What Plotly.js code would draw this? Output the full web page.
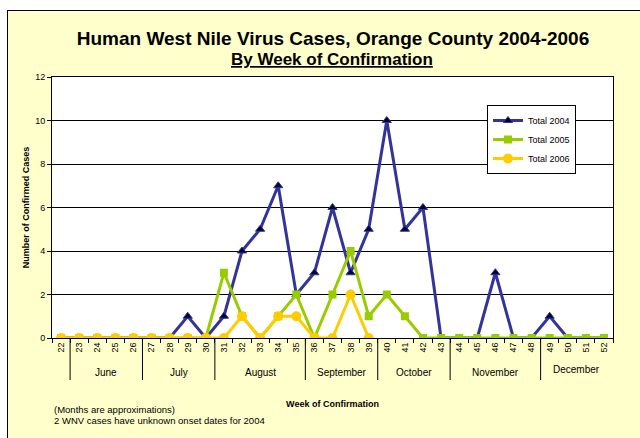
<!DOCTYPE html>
<html>
<head>
<meta charset="utf-8">
<script src="https://cdn.plot.ly/plotly-3.0.1.min.js"></script>
<style>
  html, body { margin: 0; padding: 0; background: #ffffff; }
  #frame { position: absolute; left: 7px; top: 10px; width: 640px; height: 440px;
           background: #FFFFCC; border-left: 1px solid #000; border-top: 1px solid #000; }
  #chart { position: absolute; left: 0; top: 0; width: 640px; height: 438px; }
</style>
</head>
<body>
<div id="frame"></div>
<div id="chart"></div>
<script>
// ---- data ----
const weeks = ["22","23","24","25","26","27","28","29","30","31","32","33","34","35","36","37",
               "38","39","40","41","42","43","44","45","46","47","48","49","50","51","52"];
const total2004 = [0,0,0,0,0,0,0,1,0,1,4,5,7,2,3,6,3,5,10,5,6,0,0,0,3,0,0,1,0,0,0];
const total2005 = [0,0,0,0,0,0,0,0,0,3,1,0,1,2,0,2,4,1,2,1,0,0,0,0,0,0,0,0,0,0,0];
const total2006 = [0,0,0,0,0,0,0,0,0,0,1,0,1,1,0,0,2,0,null,null,null,null,null,null,null,null,null,null,null,null,null];
const monthNames = ["June","July","August","September","October","November","December"];
const monthFirstWeek = ["23","27","31","36","40","44","49"];
const monthLastWeek  = ["26","30","35","39","43","48","52"];

const FONT = "Liberation Sans, Arial, sans-serif";

const traces = [
  { name: "Total 2004", x: weeks, y: total2004, type: "scatter", mode: "lines+markers",
    line: { color: "#333399", width: 3 },
    marker: { symbol: "triangle-up", size: 8, color: "#000033", line: { color: "#333399", width: 1 } } },
  { name: "Total 2005", x: weeks, y: total2005, type: "scatter", mode: "lines+markers",
    line: { color: "#99CC00", width: 3 },
    marker: { symbol: "square", size: 8, color: "#99CC00" } },
  { name: "Total 2006", x: weeks, y: total2006, type: "scatter", mode: "lines+markers",
    line: { color: "#FFCC00", width: 3 },
    marker: { symbol: "circle", size: 10, color: "#FFCC00" } }
];

// plot area in pixels (for converting text positions)
const PT = 77, PB = 338, PL = 52, PR = 613;
const py = p => (PB - p) / (PB - PT);
const px = p => (p - PL) / (PR - PL);

// month separators and labels
const idx = w => weeks.indexOf(w);
const shapes = [];
const annotations = [];
shapes.push({ type: "line", xref: "x", yref: "paper", x0: idx("23") - 0.5, x1: idx("23") - 0.5,
              y0: 0, y1: py(380), line: { color: "#000", width: 1 } });
monthNames.forEach((m, i) => {
  const a = idx(monthFirstWeek[i]) - 0.5, b = idx(monthLastWeek[i]) + 0.5;
  if (i < monthNames.length - 1) {
    shapes.push({ type: "line", xref: "x", yref: "paper", x0: b, x1: b, y0: 0, y1: py(380),
                  line: { color: "#000", width: 1 } });
  }
  annotations.push({ text: m, xref: "x", yref: "paper", x: (a + b) / 2,
                     y: m === "December" ? py(369) : py(372), showarrow: false,
                     xanchor: "center", yanchor: "middle", font: { family: FONT, size: 10, color: "#000" } });
});
annotations.push({ text: "<b><u>By Week of Confirmation</u></b>", xref: "paper", yref: "paper",
                   x: px(332), y: py(60), showarrow: false, xanchor: "center", yanchor: "middle",
                   font: { family: FONT, size: 17, color: "#000" } });
annotations.push({ text: "(Months are approximations)", xref: "paper", yref: "paper",
                   x: px(52), y: py(409), showarrow: false, xanchor: "left", yanchor: "middle",
                   font: { family: FONT, size: 9.5, color: "#000" } });
annotations.push({ text: "2 WNV cases have unknown onset dates for 2004", xref: "paper", yref: "paper",
                   x: px(52), y: py(420), showarrow: false, xanchor: "left", yanchor: "middle",
                   font: { family: FONT, size: 9.5, color: "#000" } });

const layout = {
  width: 640, height: 438,
  paper_bgcolor: "rgba(0,0,0,0)", plot_bgcolor: "#ffffff",
  margin: { l: PL, r: 640 - PR, t: PT, b: 438 - PB },
  font: { family: FONT, size: 9, color: "#000" },
  title: { text: "<b>Human West Nile Virus Cases, Orange County 2004-2006</b>",
           x: 333 / 640, xanchor: "center", y: 1 - 38 / 438, yanchor: "middle", yref: "container",
           font: { family: FONT, size: 19, color: "#000" } },
  xaxis: {
    type: "category", range: [-0.5, weeks.length - 0.5], tickson: "boundaries",
    ticks: "outside", ticklen: 4, tickcolor: "#000", tickangle: -90,
    tickfont: { family: FONT, size: 9, color: "#000" },
    showline: true, linecolor: "#000", linewidth: 1, mirror: true, showgrid: false,
    title: { text: "<b>Week of Confirmation</b>", standoff: 49, font: { family: FONT, size: 9, color: "#000" } },
    automargin: false, fixedrange: true
  },
  yaxis: {
    range: [0, 12], dtick: 2, tick0: 0, ticks: "outside", ticklen: 4, tickcolor: "#000",
    tickfont: { family: FONT, size: 9, color: "#000" },
    showline: true, linecolor: "#000", linewidth: 1, mirror: true,
    showgrid: true, gridcolor: "#000", gridwidth: 1, zeroline: false,
    title: { text: "<b>Number of Confirmed Cases</b>", standoff: 4, font: { family: FONT, size: 9, color: "#000" } },
    automargin: false, fixedrange: true
  },
  legend: {
    x: px(487), y: py(105), xanchor: "left", yanchor: "top",
    bgcolor: "#ffffff", bordercolor: "#000", borderwidth: 1,
    font: { family: FONT, size: 9, color: "#000" }, itemwidth: 30
  },
  shapes: shapes,
  annotations: annotations,
  showlegend: true
};

Plotly.newPlot("chart", traces, layout, { displayModeBar: false, staticPlot: true });
</script>
</body>
</html>
